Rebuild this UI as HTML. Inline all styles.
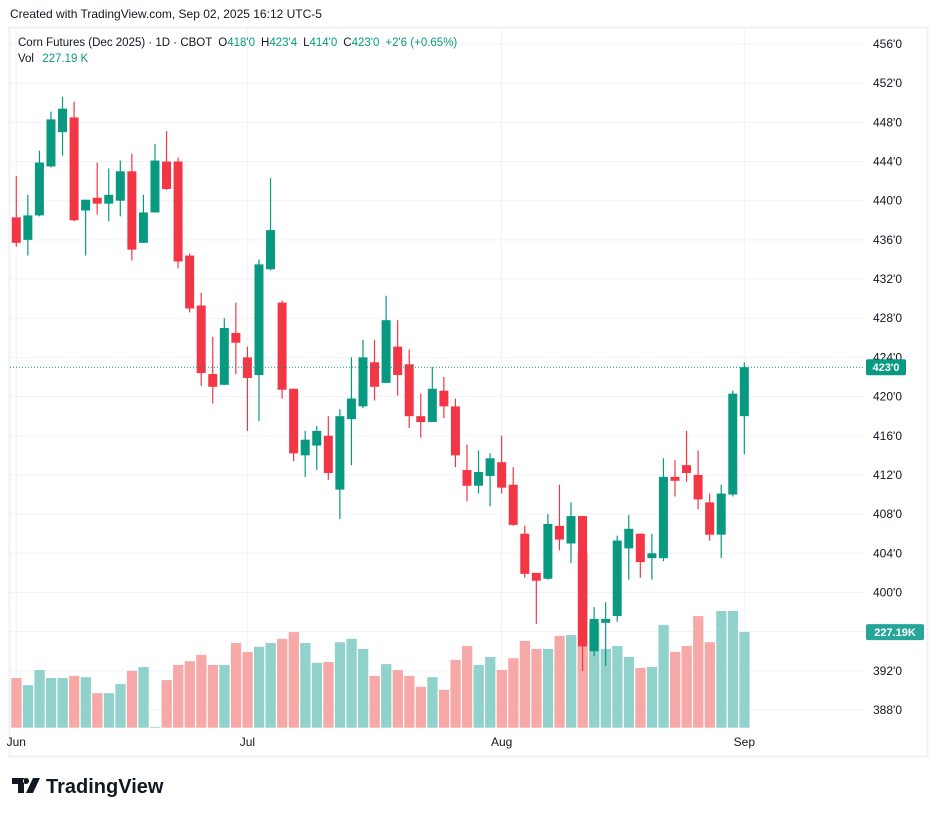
<!DOCTYPE html>
<html><head><meta charset="utf-8"><style>
body{margin:0;background:#fff;width:937px;height:816px;overflow:hidden;font-family:"Liberation Sans",sans-serif}
svg text{font-family:"Liberation Sans",sans-serif}
</style></head><body>
<svg id="c" width="937" height="816">
<text x="10" y="18" font-size="12" fill="#131722">Created with TradingView.com, Sep 02, 2025 16:12 UTC-5</text>
<rect x="9.5" y="27.5" width="918" height="729" fill="none" stroke="#f0f1f4" stroke-width="2"/>
<g id="grid"></g><g id="vol"></g><g id="candles"></g><g id="axis"></g>
<text x="18" y="46" font-size="11.5" fill="#131722">Corn Futures (Dec 2025) · 1D · CBOT <tspan dx="3">O</tspan><tspan fill="#089981">418'0</tspan><tspan dx="6">H</tspan><tspan fill="#089981">423'4</tspan><tspan dx="6">L</tspan><tspan fill="#089981">414'0</tspan><tspan dx="6">C</tspan><tspan fill="#089981">423'0</tspan><tspan dx="6" fill="#089981">+2'6 (+0.65%)</tspan></text>
<text x="18" y="62" font-size="11.5" fill="#131722">Vol <tspan dx="5" fill="#089981">227.19 K</tspan></text>
<g>
<path d="M12 778h12v15h-6v-9h-6z M26 778a3 3 0 1 0 .1 0z M33 778h7l-7 15h-7z" fill="#131722"/>
<text x="46" y="793" font-size="20" font-weight="bold" fill="#131722">TradingView</text></g>
</svg>
<script>
const dates=["Jun","Jul","Aug","Sep"];
const dateIdx=[0,20,42,63];
const opens=[438.3,436.0,438.5,443.5,447.0,448.5,439.0,440.3,439.7,440.0,443.0,435.7,438.8,444.0,444.0,434.4,429.3,422.3,421.2,426.5,424.0,422.2,433.0,429.6,420.8,414.0,415.0,416.0,410.5,417.7,419.0,423.5,421.4,425.1,423.3,418.0,417.4,420.6,419.0,412.5,410.9,411.9,413.3,411.0,406.0,402.0,401.4,406.8,405.0,407.8,394.0,396.9,397.6,404.5,406.0,403.5,403.5,411.8,413.0,412.0,409.2,405.9,410.0,418.0];
const highs=[442.5,440.6,445.1,449.1,450.6,450.1,440.1,443.9,443.3,444.1,444.8,440.6,445.8,447.1,444.4,434.6,430.6,426.1,428.0,429.6,425.1,434.0,442.3,429.8,420.8,416.5,417.0,418.0,418.7,424.0,425.8,425.8,430.3,427.8,424.8,420.3,423.0,422.0,419.8,415.1,414.5,414.2,416.0,412.8,406.8,402.0,408.0,411.0,409.2,407.8,398.5,399.0,405.8,407.9,406.0,406.0,413.7,413.5,416.5,414.5,410.1,411.0,420.6,423.5];
const lows=[435.3,434.4,438.4,443.4,444.6,437.9,434.4,438.6,437.9,438.4,433.9,435.7,438.8,441.1,433.1,428.6,421.1,419.3,421.2,422.3,416.5,417.5,432.9,419.8,413.4,411.8,412.5,411.5,407.5,413.0,418.8,419.6,421.4,420.1,416.8,415.8,417.4,417.8,412.8,409.3,410.1,408.8,410.1,406.8,401.5,396.8,401.3,404.3,403.0,392.0,393.5,392.5,397.0,401.3,401.5,401.3,403.2,409.8,411.3,408.5,405.3,403.5,409.8,414.1];
const closes=[435.7,438.5,443.9,448.3,449.4,438.0,440.1,439.7,440.6,443.0,435.0,438.8,444.1,441.2,433.8,429.0,422.4,421.0,427.0,425.5,421.9,433.5,437.0,420.7,414.2,415.6,416.5,412.2,418.0,419.8,424.0,421.0,427.8,422.2,418.0,417.4,420.8,419.0,414.0,410.9,412.3,413.7,410.7,406.9,401.9,401.2,407.0,405.4,407.8,394.5,397.3,397.3,405.3,406.5,403.1,404.0,411.8,411.4,412.2,409.5,405.9,410.1,420.3,423.0];
const volumes=[118,101,137,118,118,123,120,82,82,104,135,144,2,113,149,158,173,149,149,201,180,192,201,211,227,201,154,156,203,211,187,123,151,137,123,97,120,90,161,194,149,168,137,165,206,187,187,218,220,415,249,187,194,168,142,144,244,180,194,265,203,277,277,227];
const priceTicks=[456,452,448,444,440,436,432,428,424,420,416,412,408,404,400,396,392,388];
const lastPrice=423.0, lastVol="227.19K";
const NS="http://www.w3.org/2000/svg";
const X0=16.3, DX=11.556, PLOT_R=865;
const xs=i=>X0+i*DX;
const ys=p=>44+(456-p)*9.794;
const VB=727.7, vh=v=>v/2.374;
function mk(tag,attrs,parent){const e=document.createElementNS(NS,tag);for(const k in attrs)e.setAttribute(k,attrs[k]);parent.appendChild(e);return e;}
const grid=document.getElementById('grid'),vol=document.getElementById('vol'),cg=document.getElementById('candles'),ax=document.getElementById('axis');
priceTicks.forEach(p=>{
 const l=mk('line',{x1:10,x2:PLOT_R,y1:ys(p),y2:ys(p),stroke:'#f0f3fa'},grid);
 
 
 const t=mk('text',{x:873,y:ys(p)+4,'font-size':12,fill:'#131722'},ax);
 t.textContent=p+"'0";
 
 
});
dates.forEach((d,k)=>{
 const x=xs(dateIdx[k]);
 const l=mk('line',{x1:x,x2:x,y1:28,y2:728,stroke:'#f0f3fa'},grid);
 
 
 const t=mk('text',{x:x,y:746,'font-size':12,fill:'#131722','text-anchor':'middle'},ax);
 t.textContent=d;
 
 
});
volumes.forEach((v,i)=>{
 const up=closes[i]>=opens[i];
 const r=mk('rect',{x:xs(i)-5,y:VB-vh(v),width:10.3,height:vh(v),fill:up?'#92d2cc':'#f7a9a7'},vol);
 
 
});
opens.forEach((o,i)=>{
 const c=closes[i],up=c>=o,col=up?'#089981':'#f23645',x=xs(i);
 const g=mk('g',{},cg);
 
 
 mk('line',{x1:x,x2:x,y1:ys(highs[i]),y2:ys(lows[i]),stroke:col,'stroke-width':1.2},g);
 const top=ys(Math.max(o,c)),bot=ys(Math.min(o,c));
 mk('rect',{x:x-4.5,y:top,width:9,height:Math.max(1,bot-top),fill:col},g);
});
const ly=ys(lastPrice);
const dl=mk('line',{x1:10,x2:PLOT_R,y1:ly,y2:ly,stroke:'#089981','stroke-dasharray':'1 2'},ax);


const pb=mk('rect',{x:866,y:ly-8,width:40,height:16,rx:2,fill:'#089981'},ax);


const pt=mk('text',{x:886,y:ly+4,'font-size':11,fill:'#fff','text-anchor':'middle','font-weight':'bold'},ax);
pt.textContent="423'0";
const vb=mk('rect',{x:866,y:VB-vh(volumes[63])-8,width:58,height:16,rx:2,fill:'#26a69a'},ax);


const vt=mk('text',{x:895,y:VB-vh(volumes[63])+4,'font-size':11,fill:'#fff','text-anchor':'middle','font-weight':'bold'},ax);
vt.textContent=lastVol;
</script>
</body></html>
